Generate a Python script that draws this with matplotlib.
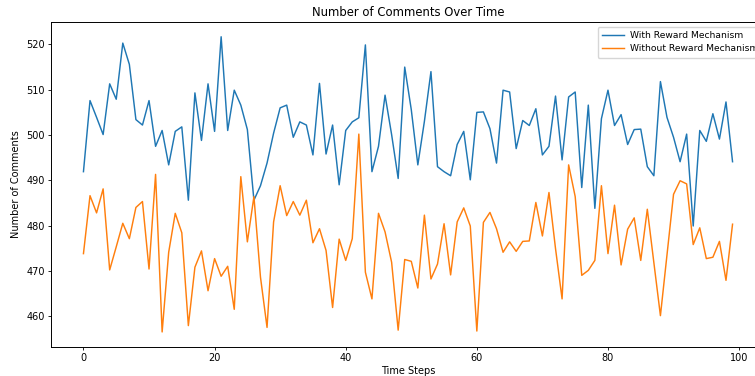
import matplotlib
matplotlib.use("Agg")
import matplotlib.pyplot as plt
import numpy as np

time_steps = list(range(100))

with_reward = [
    491.9, 507.6, 503.9, 500.1, 511.3, 507.9, 520.3, 515.6, 503.4, 502.2,
    507.6, 497.5, 501.0, 493.4, 500.8, 501.8, 485.6, 509.3, 498.8, 511.3,
    500.8, 521.7, 501.0, 509.9, 506.6, 501.2, 485.6, 488.8, 493.8, 500.4,
    506.0, 506.6, 499.5, 502.9, 502.2, 495.6, 511.4, 495.8, 502.2, 489.0,
    501.0, 502.9, 503.8, 519.9, 491.9, 497.5, 508.8, 500.1, 490.4, 515.0,
    505.6, 493.4, 503.0, 514.0, 493.0, 491.9, 491.0, 497.9, 500.8, 490.1,
    505.0, 505.1, 501.4, 493.8, 509.9, 509.5, 497.0, 503.2, 502.1, 505.8,
    495.6, 497.5, 508.6, 494.5, 508.4, 509.5, 488.4, 506.6, 483.8, 503.6,
    509.9, 502.1, 504.5, 497.9, 501.2, 501.3, 493.0, 491.0, 511.8, 503.9,
    499.5, 494.1, 500.2, 479.9, 501.0, 498.6, 504.7, 499.1, 507.3, 494.1,
]

without_reward = [
    473.8, 486.6, 482.8, 488.1, 470.2, 475.3, 480.5, 477.1, 484.0, 485.3,
    470.4, 491.3, 456.5, 474.1, 482.7, 478.4, 457.9, 470.8, 474.4, 465.6,
    472.7, 468.8, 471.0, 461.5, 490.8, 476.4, 486.4, 468.6, 457.5, 480.8,
    488.8, 482.2, 485.3, 482.3, 485.6, 476.2, 479.3, 474.5, 461.9, 477.0,
    472.3, 477.1, 500.2, 469.7, 463.8, 482.7, 478.6, 471.9, 456.9, 472.5,
    472.1, 466.2, 482.3, 468.2, 471.5, 480.4, 469.1, 480.8, 483.9, 479.9,
    456.7, 480.7, 482.9, 479.3, 474.1, 476.4, 474.3, 476.5, 476.6, 485.1,
    477.7, 487.3, 474.9, 463.8, 493.4, 486.4, 469.0, 470.1, 472.3, 488.8,
    473.8, 484.5, 471.3, 479.2, 481.7, 472.3, 483.6, 471.8, 460.1, 473.5,
    486.9, 489.9, 489.2, 475.8, 479.5, 472.7, 473.0, 476.5, 467.9, 480.3,
]

labels = ["With Reward Mechanism", "Without Reward Mechanism"]

fig = plt.figure(figsize=(7.55, 3.76), dpi=100)
ax_w = (765 - 51) / 755
ax_h = (346.7 - 22) / 376
ax = fig.add_axes([51 / 755, 1 - 346.7 / 376, ax_w, ax_h])

ax.plot(time_steps, with_reward, color="#1f77b4", lw=1.05, label=labels[0])
ax.plot(time_steps, without_reward, color="#ff7f0e", lw=1.05, label=labels[1])

ax.set_title("Number of Comments Over Time", fontsize=8.4, pad=4)
ax.set_xlabel("Time Steps", fontsize=7, labelpad=2)
ax.set_ylabel("Number of Comments", fontsize=7, labelpad=4)
ax.tick_params(labelsize=7, length=2.5, width=0.6, pad=2)
for s in ax.spines.values():
    s.set_linewidth(0.7)
ax.legend(loc="upper left",
          bbox_to_anchor=((597.5 - 51) / 714, 1 - (26.7 - 22) / 324.7),
          borderaxespad=0, fontsize=6.6, frameon=True,
          handlelength=2.4, handletextpad=0.6,
          borderpad=0.5, labelspacing=0.45)

fig.savefig("out.png", dpi=100)
